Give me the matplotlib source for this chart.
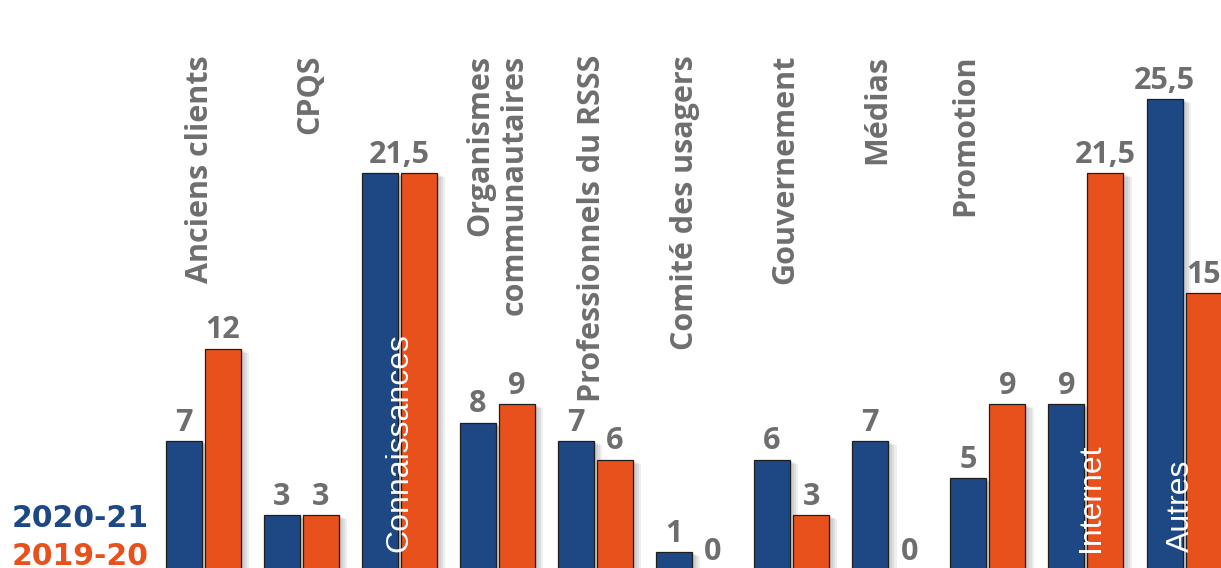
import numpy as np
import matplotlib.pyplot as plt
import matplotlib.patheffects as pe

# provenance des demandes, deux années comparées
categories = ["Anciens clients", "CPQS", "Connaissances", "Organismes\ncommunautaires",
              "Professionnels du RSSS", "Comité des usagers", "Gouvernement", "Médias",
              "Promotion", "Internet", "Autres"]
values_2021 = [7, 3, 21.5, 8, 7, 1, 6, 7, 5, 9, 25.5]
values_1920 = [12, 3, 21.5, 9, 6, 0, 3, 0, 9, 21.5, 15]
series_names = ["2020-21", "2019-20"]

# étiquettes écrites en blanc dans la barre
inside = ["Connaissances", "Internet", "Autres"]
# groupes où une seule valeur commune est affichée
merged = ["Connaissances"]
# petit décalage horizontal des étiquettes (pixels)
label_shift = [-3, 9, 0, 0, -3, -9, -6, -12, -23, 5, -3]

BLUE = "#1d4884"
ORANGE = "#e8501c"
GRAY = "#6e6e6e"
EDGE = "#1e1e1e"

fig = plt.figure(figsize=(12.21, 5.68), dpi=100)
ax = fig.add_axes([0, 0, 1, 1])

px = 1 / 98.1          # une unité x = 98,1 px (pas entre groupes)
x = np.arange(len(categories))
w = 36 * px
off = 19.5 * px

shadow = [pe.SimplePatchShadow(offset=(k, -0.5 * k), shadow_rgbFace="#444444", alpha=0.09)
          for k in (1.5, 3, 4.5, 6)] + [pe.Normal()]

ax.bar(x - off, values_2021, w, color=BLUE, edgecolor=EDGE, linewidth=0.9,
       path_effects=shadow, zorder=2)
ax.bar(x + off, values_1920, w, color=ORANGE, edgecolor=EDGE, linewidth=0.9,
       path_effects=shadow, zorder=2)


def fmt(v):
    return f"{v:g}".replace(".", ",")


val_font = dict(family="Open Sans", weight="bold", fontsize=22, color=GRAY)


def value_label(xi, v):
    ax.annotate(fmt(v), (xi, v), xytext=(0, 7.5), textcoords="offset points",
                ha="center", va="baseline", zorder=3, annotation_clip=False, **val_font)


for i, name in enumerate(categories):
    if name in merged:
        value_label(x[i], max(values_2021[i], values_1920[i]))
    else:
        value_label(x[i] - off, values_2021[i])
        value_label(x[i] + off, values_1920[i])

for xi, name, s in zip(x, categories, label_shift):
    if name in inside:
        ax.text(xi + s * px, 1.0, name, rotation=90, ha="center", va="bottom",
                family="Liberation Sans", fontsize=23, color="white", zorder=4)
    else:
        ax.text(xi + s * px, 27.9, name, rotation=90, ha="center", va="top",
                multialignment="right", zorder=3, **val_font)

# légende en texte coloré, en bas à gauche
fig.text(12 / 1221, 1 - 527 / 568, series_names[0], ha="left", va="baseline",
         family="DejaVu Sans", weight="bold", fontsize=21.5, color=BLUE)
fig.text(12 / 1221, 1 - 565 / 568, series_names[1], ha="left", va="baseline",
         family="DejaVu Sans", weight="bold", fontsize=21.5, color=ORANGE)

ax.set_xlim(-203 * px, (1221 - 203) * px)
ax.set_ylim(0.13, 30.87)
ax.axis("off")

fig.savefig("out.png", dpi=100, facecolor="white")
